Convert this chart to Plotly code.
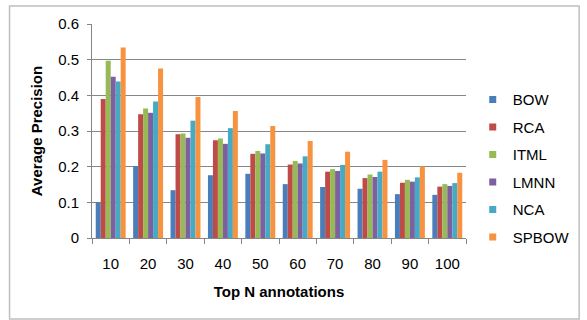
import plotly.graph_objects as go

# Average precision for the top-N retrieved annotations
categories = ["10", "20", "30", "40", "50", "60", "70", "80", "90", "100"]
bow = [0.100, 0.201, 0.134, 0.176, 0.180, 0.151, 0.143, 0.138, 0.123, 0.121]
rca = [0.390, 0.347, 0.291, 0.274, 0.236, 0.206, 0.186, 0.168, 0.155, 0.144]
itml = [0.497, 0.363, 0.293, 0.279, 0.244, 0.216, 0.193, 0.178, 0.163, 0.151]
lmnn = [0.452, 0.351, 0.281, 0.264, 0.237, 0.209, 0.188, 0.171, 0.158, 0.146]
nca = [0.439, 0.383, 0.329, 0.308, 0.263, 0.229, 0.205, 0.186, 0.170, 0.154]
spbow = [0.534, 0.475, 0.395, 0.356, 0.314, 0.272, 0.242, 0.219, 0.201, 0.183]

series = [
    ("BOW", bow, "#4A7EBB"),
    ("RCA", rca, "#BE4B48"),
    ("ITML", itml, "#98B954"),
    ("LMNN", lmnn, "#7D60A0"),
    ("NCA", nca, "#46AAC5"),
    ("SPBOW", spbow, "#F69240"),
]

FONT = "Liberation Sans, Arial, sans-serif"

fig = go.Figure()
for name, vals, color in series:
    fig.add_trace(go.Bar(
        x=categories, y=vals, name=name, showlegend=False,
        marker=dict(color=color, line=dict(width=0)),
    ))
# small square legend keys
for name, vals, color in series:
    fig.add_trace(go.Scatter(
        x=[None], y=[None], mode="markers", name=name, legendgroup=name,
        marker=dict(symbol="square", size=7, color=color),
    ))

fig.update_layout(
    width=587, height=320,
    margin=dict(l=92, r=105, t=24, b=82),
    paper_bgcolor="white", plot_bgcolor="white",
    barmode="group", bargap=0.2, bargroupgap=0,
    font=dict(family=FONT, size=15, color="black"),
    showlegend=True,
    legend=dict(
        x=1.018, y=0.723, xanchor="left", yanchor="top",
        font=dict(size=15), traceorder="grouped", tracegroupgap=5,
        itemwidth=30, bgcolor="rgba(0,0,0,0)",
    ),
    xaxis=dict(
        type="category", showgrid=False, showline=True, linecolor="#868686",
        ticks="outside", ticklen=5, tickcolor="#868686", tickson="boundaries",
        tickfont=dict(size=15), ticklabelstandoff=12,
        title=dict(text="<b>Top N annotations</b>", font=dict(size=15), standoff=15),
    ),
    yaxis=dict(
        range=[0, 0.6], dtick=0.1, tickformat="~g",
        showgrid=True, gridcolor="#868686", gridwidth=1,
        showline=True, linecolor="#868686", ticks="outside", ticklen=4,
        tickcolor="#868686", zeroline=False, tickfont=dict(size=15),
        ticklabelstandoff=5,
        title=dict(text="<b>Average Precision</b>", font=dict(size=15), standoff=11),
    ),
    shapes=[dict(
        type="rect", xref="paper", yref="paper",
        x0=(6 - 92) / 390, x1=(600 - 92) / 390,
        y0=(238 - 319) / 214, y1=(238 - 6) / 214,
        line=dict(color="#BFBFBF", width=1.5), fillcolor="rgba(0,0,0,0)",
        layer="below",
    )],
)

fig.write_html("out.html")
